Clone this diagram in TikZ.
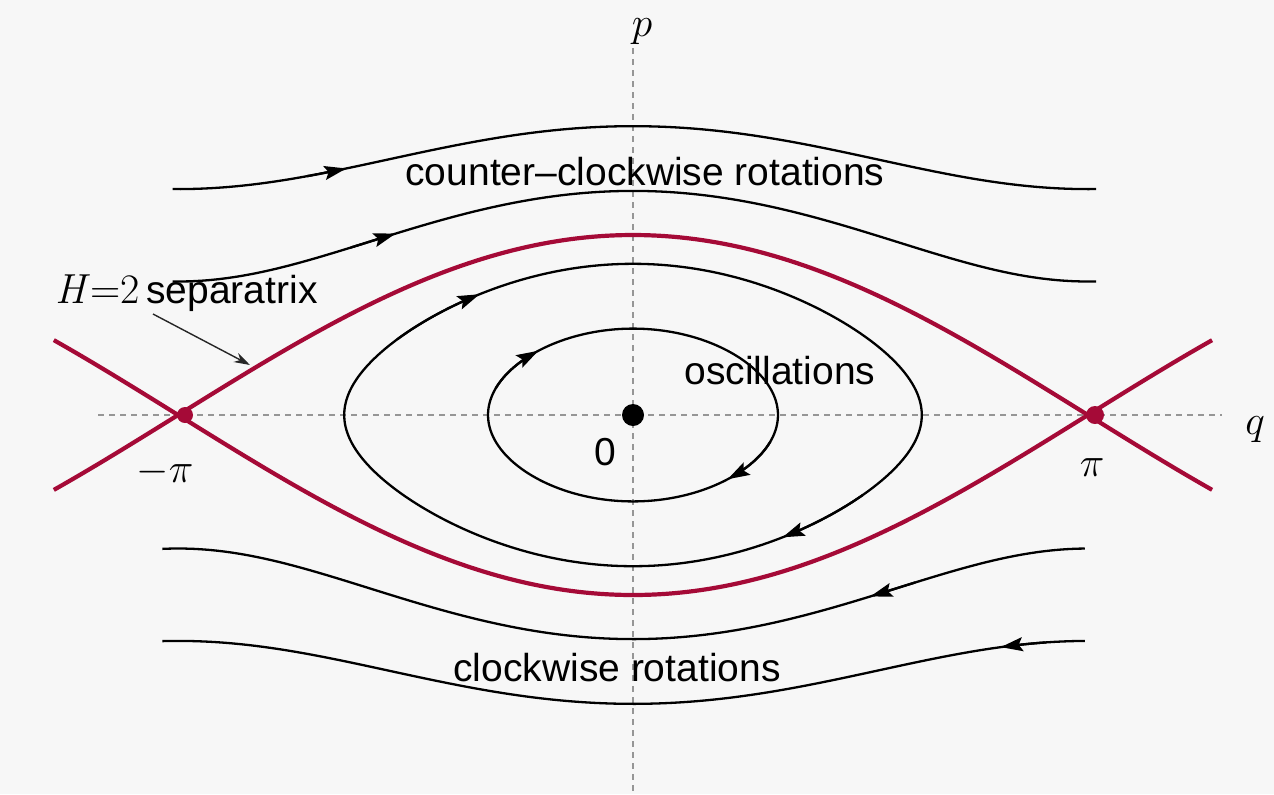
\documentclass[tikz,border=0pt]{standalone}
\usepackage{fontspec}
\setsansfont{Liberation Sans}
\usetikzlibrary{arrows.meta}
\definecolor{sepred}{RGB}{165,10,55}
\definecolor{bgcol}{RGB}{247,247,247}
\definecolor{axisgray}{RGB}{150,150,150}
\begin{document}
\begin{tikzpicture}[x=0.5pt,y=-0.5pt,
  traj/.style={line width=1.15pt, black},
  sepcurve/.style={line width=2.1pt, sepred},
  axisline/.style={axisgray, line width=0.9pt, dash pattern=on 3pt off 2.5pt},
  lbl/.style={font=\sffamily\fontsize{19.5}{23}\selectfont, inner sep=0pt},
  mathlbl/.style={font=\fontsize{22}{26}\selectfont, inner sep=0pt},
  tipped/.style={-{Stealth[length=11pt,width=7pt,inset=2pt]}},
  declare function={X(\q)=633+144.8*\q; rotp(\q,\h)=sqrt(max(2*\h-4*pow(sin(deg(\q/2)),2),0));}
]
\useasboundingbox (0,0) rectangle (1274,794);
\fill[bgcol] (0,0) rectangle (1274,794);

% axes
\coordinate (axL) at (98,415);
\coordinate (axR) at (1222,415);
\coordinate (axT) at (633,48);
\coordinate (axB) at (633,794);
\draw[axisline] (axL) -- (axR);
\draw[axisline] (axT) -- (axB);

% rotations (upper, moving right; lower, moving left)
\foreach \h in {3.1,5.15}{
  \draw[traj] plot[domain=-3.18:3.2,samples=120] ({X(\x)},{415-90*rotp(\x,\h)});
  \draw[traj] plot[domain=-3.25:3.12,samples=120] ({X(\x)},{415+90*rotp(\x,\h)});
}
% arrows on rotations
\draw[traj,tipped] plot[domain=-2.25:-1.98,samples=15] ({X(\x)},{415-90*rotp(\x,5.15)});
\draw[traj,tipped] plot[domain=-1.95:-1.64,samples=15] ({X(\x)},{415-90*rotp(\x,3.1)});
\draw[traj,tipped] plot[domain=-1.95:-1.64,samples=15] ({X(-\x)},{415+90*rotp(-\x,3.1)});
\draw[traj,tipped] plot[domain=-2.85:-2.54,samples=15] ({X(-\x)},{415+90*rotp(-\x,5.15)});

% oscillations
\draw[traj] plot[domain=0:360,samples=180,smooth] ({633+5.0545*asin(0.84*sin(\x))},{415-180*0.84*cos(\x)}) -- cycle;
\draw[traj] plot[domain=0:360,samples=180,smooth] ({633+5.0545*asin(0.48*sin(\x))},{415-180*0.48*cos(\x)}) -- cycle;
\draw[traj,tipped] plot[domain=300:323,samples=15] ({633+5.0545*asin(0.84*sin(\x))},{415-180*0.84*cos(\x)});
\draw[traj,tipped] plot[domain=122:144,samples=15] ({633+5.0545*asin(0.84*sin(\x))},{415-180*0.84*cos(\x)});
\draw[traj,tipped] plot[domain=288:318,samples=15] ({633+5.0545*asin(0.48*sin(\x))},{415-180*0.48*cos(\x)});
\draw[traj,tipped] plot[domain=108:138,samples=15] ({633+5.0545*asin(0.48*sin(\x))},{415-180*0.48*cos(\x)});

% separatrix
\draw[sepcurve] plot[domain=-4:4,samples=160] ({X(\x)},{415-180*cos(deg(\x/2))});
\draw[sepcurve] plot[domain=-4:4,samples=160] ({X(\x)},{415+180*cos(deg(\x/2))});

% fixed points
\node[circle, fill=black, minimum size=11pt, inner sep=0pt] (origin) at (633,415) {};
\node[circle, fill=sepred, minimum size=8pt, inner sep=0pt] (saddleL) at (185,415) {};
\node[circle, fill=sepred, minimum size=9pt, inner sep=0pt] (saddleR) at (1095,415) {};

% labels
\node[mathlbl, anchor=base] (plabel) at (642,36) {$p$};
\node[mathlbl, anchor=base] (qlabel) at (1255,434) {$q$};
\node[mathlbl] (mpilabel) at (165,472) {$-\pi$};
\node[mathlbl] (pilabel) at (1092,468) {$\pi$};
\node[lbl] (zerolabel) at (605,452) {0};
\node[lbl] (ccw) at (645,172) {counter–clockwise rotations};
\node[lbl] (cw) at (617,668) {clockwise rotations};
\node[lbl] (osc) at (780,371) {oscillations};
\node[lbl, anchor=base west] (seplabel) at (55,303) {{\rmfamily\fontsize{21}{24}\selectfont\itshape H\/\upshape=2}\,separatrix};

\coordinate (sepstart) at (153,314);
\coordinate (septip) at (250,365);
\draw[black!85, line width=0.7pt, -{Stealth[length=8pt,width=5pt]}] (sepstart) -- (septip);
\end{tikzpicture}
\end{document}
